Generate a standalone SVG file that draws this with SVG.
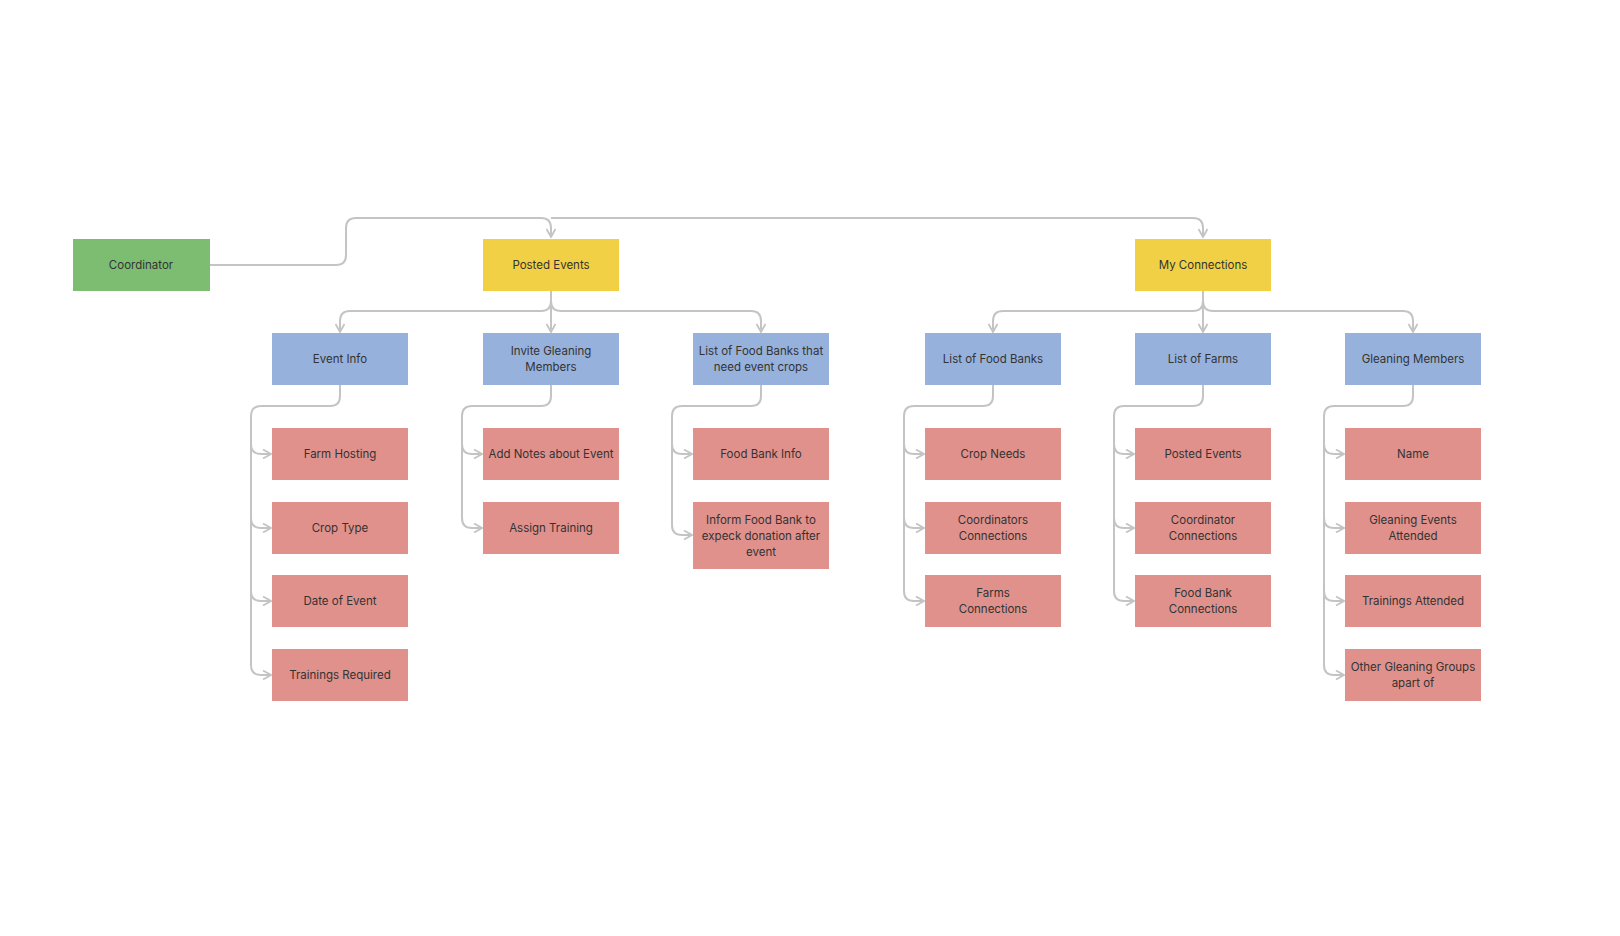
<svg xmlns="http://www.w3.org/2000/svg" width="1620" height="936" viewBox="0 0 1620 936">
<style>
.n text{font-family:Inter,"Liberation Sans",sans-serif;font-size:11.5px;fill:#333;text-anchor:middle}
.g rect{fill:#7dbd72}.y rect{fill:#f2d045}.b rect{fill:#97b1dd}.r rect{fill:#e0918c}
#c path{fill:none;stroke:#c4c4c4;stroke-width:2;marker-end:url(#a)}
</style>
<defs><marker id="a" viewBox="0 0 10 10" refX="9" refY="5" markerWidth="10" markerHeight="10" markerUnits="userSpaceOnUse" orient="auto"><path d="M1 0.5L9 5L1 9.5" fill="none" stroke="#c4c4c4" stroke-width="1.8"/></marker></defs>
<rect width="1620" height="936" fill="#fff"/>
<g id="c">
<path d="M210 265H336Q346 265 346 255V228Q346 218 356 218H541Q551 218 551 228V237"/>
<path d="M551 218H1193Q1203 218 1203 228V237"/>
<path d="M551 291V301Q551 311 541 311H350Q340 311 340 321V332"/>
<path d="M551 291V332"/>
<path d="M551 301Q551 311 561 311H751Q761 311 761 321V332"/>
<path d="M1203 291V301Q1203 311 1193 311H1003Q993 311 993 321V332"/>
<path d="M1203 291V332"/>
<path d="M1203 301Q1203 311 1213 311H1403Q1413 311 1413 321V332"/>
<path d="M340 385V396Q340 406 330 406H261Q251 406 251 416V444Q251 454 261 454H271"/>
<path d="M251 416V518Q251 528 261 528H271"/>
<path d="M251 416V591Q251 601 261 601H271"/>
<path d="M251 416V665Q251 675 261 675H271"/>
<path d="M551 385V396Q551 406 541 406H472Q462 406 462 416V444Q462 454 472 454H482"/>
<path d="M462 416V518Q462 528 472 528H482"/>
<path d="M761 385V396Q761 406 751 406H682Q672 406 672 416V444Q672 454 682 454H692"/>
<path d="M672 416V525Q672 535 682 535H692"/>
<path d="M993 385V396Q993 406 983 406H914Q904 406 904 416V444Q904 454 914 454H924"/>
<path d="M904 416V518Q904 528 914 528H924"/>
<path d="M904 416V591Q904 601 914 601H924"/>
<path d="M1203 385V396Q1203 406 1193 406H1124Q1114 406 1114 416V444Q1114 454 1124 454H1134"/>
<path d="M1114 416V518Q1114 528 1124 528H1134"/>
<path d="M1114 416V591Q1114 601 1124 601H1134"/>
<path d="M1413 385V396Q1413 406 1403 406H1334Q1324 406 1324 416V444Q1324 454 1334 454H1344"/>
<path d="M1324 416V518Q1324 528 1334 528H1344"/>
<path d="M1324 416V591Q1324 601 1334 601H1344"/>
<path d="M1324 416V665Q1324 675 1334 675H1344"/>
</g>
<g id="coordinator" class="n g"><rect x="73" y="239" width="137" height="52"/><text x="141" y="269">Coordinator</text></g>
<g id="posted" class="n y"><rect x="483" y="239" width="136" height="52"/><text x="551" y="269">Posted Events</text></g>
<g id="myconn" class="n y"><rect x="1135" y="239" width="136" height="52"/><text x="1203" y="269">My Connections</text></g>
<g id="eventinfo" class="n b"><rect x="272" y="333" width="136" height="52"/><text x="340" y="363">Event Info</text></g>
<g id="invite" class="n b"><rect x="483" y="333" width="136" height="52"/><text x="551" y="355">Invite Gleaning</text><text x="551" y="371">Members</text></g>
<g id="foodbanks" class="n b"><rect x="693" y="333" width="136" height="52"/><text x="761" y="355">List of Food Banks that</text><text x="761" y="371">need event crops</text></g>
<g id="listfb" class="n b"><rect x="925" y="333" width="136" height="52"/><text x="993" y="363">List of Food Banks</text></g>
<g id="listfarms" class="n b"><rect x="1135" y="333" width="136" height="52"/><text x="1203" y="363">List of Farms</text></g>
<g id="gleaners" class="n b"><rect x="1345" y="333" width="136" height="52"/><text x="1413" y="363">Gleaning Members</text></g>
<g id="farmhost" class="n r"><rect x="272" y="428" width="136" height="52"/><text x="340" y="458">Farm Hosting</text></g>
<g id="croptype" class="n r"><rect x="272" y="502" width="136" height="52"/><text x="340" y="532">Crop Type</text></g>
<g id="date" class="n r"><rect x="272" y="575" width="136" height="52"/><text x="340" y="605">Date of Event</text></g>
<g id="trainreq" class="n r"><rect x="272" y="649" width="136" height="52"/><text x="340" y="679">Trainings Required</text></g>
<g id="notes" class="n r"><rect x="483" y="428" width="136" height="52"/><text x="551" y="458">Add Notes about Event</text></g>
<g id="assign" class="n r"><rect x="483" y="502" width="136" height="52"/><text x="551" y="532">Assign Training</text></g>
<g id="fbinfo" class="n r"><rect x="693" y="428" width="136" height="52"/><text x="761" y="458">Food Bank Info</text></g>
<g id="inform" class="n r"><rect x="693" y="502" width="136" height="67"/><text x="761" y="524">Inform Food Bank to</text><text x="761" y="540">expeck donation after</text><text x="761" y="556">event</text></g>
<g id="cropneeds" class="n r"><rect x="925" y="428" width="136" height="52"/><text x="993" y="458">Crop Needs</text></g>
<g id="coordconn" class="n r"><rect x="925" y="502" width="136" height="52"/><text x="993" y="524">Coordinators</text><text x="993" y="540">Connections</text></g>
<g id="farmsconn" class="n r"><rect x="925" y="575" width="136" height="52"/><text x="993" y="597">Farms</text><text x="993" y="613">Connections</text></g>
<g id="postedev" class="n r"><rect x="1135" y="428" width="136" height="52"/><text x="1203" y="458">Posted Events</text></g>
<g id="coordconn2" class="n r"><rect x="1135" y="502" width="136" height="52"/><text x="1203" y="524">Coordinator</text><text x="1203" y="540">Connections</text></g>
<g id="fbconn" class="n r"><rect x="1135" y="575" width="136" height="52"/><text x="1203" y="597">Food Bank</text><text x="1203" y="613">Connections</text></g>
<g id="name" class="n r"><rect x="1345" y="428" width="136" height="52"/><text x="1413" y="458">Name</text></g>
<g id="attended" class="n r"><rect x="1345" y="502" width="136" height="52"/><text x="1413" y="524">Gleaning Events</text><text x="1413" y="540">Attended</text></g>
<g id="trainatt" class="n r"><rect x="1345" y="575" width="136" height="52"/><text x="1413" y="605">Trainings Attended</text></g>
<g id="other" class="n r"><rect x="1345" y="649" width="136" height="52"/><text x="1413" y="671">Other Gleaning Groups</text><text x="1413" y="687">apart of</text></g>
</svg>
